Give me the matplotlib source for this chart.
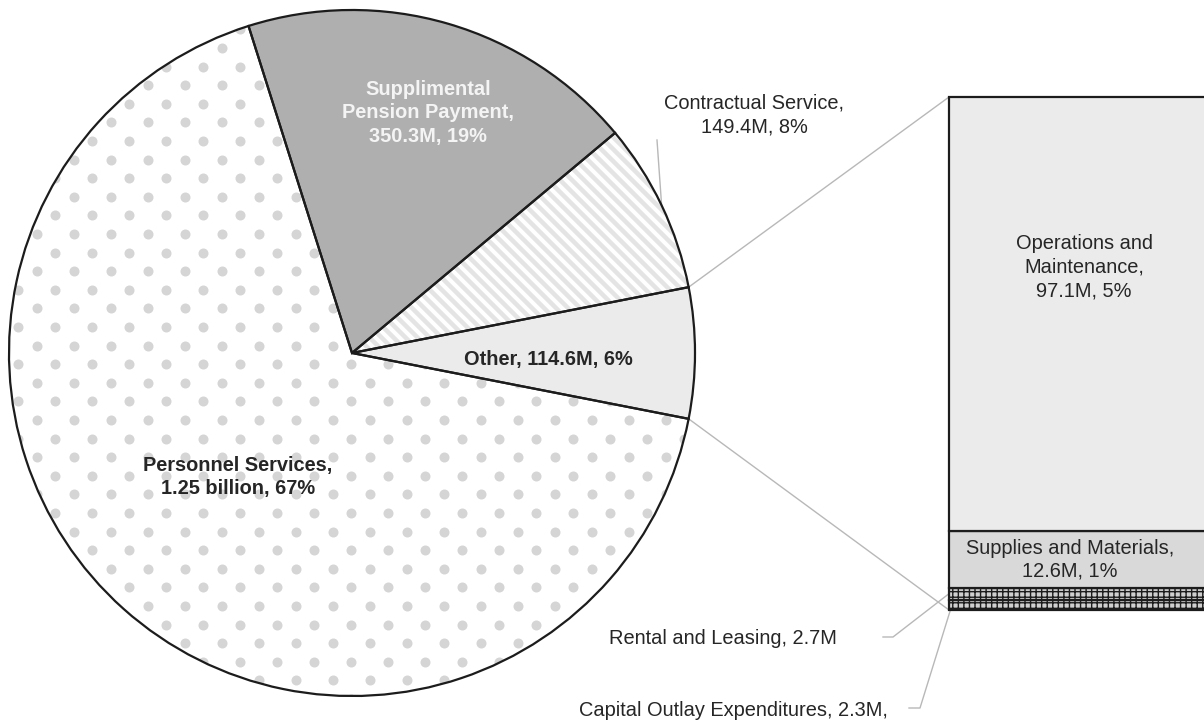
import numpy as np
import matplotlib
matplotlib.use('Agg')
from matplotlib import pyplot as plt
from matplotlib import patches as mpatches
from matplotlib.collections import LineCollection

plt.rcParams['font.family'] = ['Liberation Sans', 'DejaVu Sans']

# data
pie_names = ['Other', 'Contractual Service', 'Supplimental Pension Payment', 'Personnel Services']
pie_values = [114.6, 149.4, 350.3, 1250.0]
pie_texts = ['Other, 114.6M, 6%', 'Contractual Service,\n149.4M, 8%',
             'Supplimental\nPension Payment,\n350.3M, 19%', 'Personnel Services,\n1.25 billion, 67%']

bar_names = ['Capital Outlay Expenditures', 'Rental and Leasing', 'Supplies and Materials',
             'Operations and Maintenance']
bar_values = [2.3, 2.7, 12.6, 97.1]
bar_texts = ['Capital Outlay Expenditures, 2.3M,', 'Rental and Leasing, 2.7M',
             'Supplies and Materials,\n12.6M, 1%', 'Operations and\nMaintenance,\n97.1M, 5%']

W, H = 1204, 724
TXT = '#262626'
EDGE = '#1c1c1c'
LEAD = '#b8b8b8'
FS = 14.4
LS = 1.32


def Y(y):
    # image pixel row -> data y
    return H - y


fig = plt.figure(figsize=(W / 100, H / 100), dpi=100)
ax = fig.add_axes([0, 0, 1, 1])

cx, cy, r = 352, Y(353), 343
frac_other = pie_values[0] / sum(pie_values)
wedges, _ = ax.pie(pie_values, colors=['#ebebeb', 'white', '#afafaf', 'white'],
                   startangle=-180 * frac_other, counterclock=True, radius=r, center=(cx, cy),
                   wedgeprops=dict(edgecolor='none', linewidth=0), frame=True)
w_other, w_contr, w_supp, w_pers = wedges

# dotted texture for Personnel Services
rows = np.arange(-8, 32)
dx, dy = [], []
for k in rows:
    xs = np.arange(-40, 760, 37) + (18.5 if k % 2 else 0) + 76.7 - 37 * 3
    dx.extend(xs)
    dy.extend([Y(122.3 + 18.6 * k)] * len(xs))
dots = ax.scatter(dx, dy, s=52, color='#d5d5d5', linewidths=0, zorder=2)
dots.set_clip_path(w_pers)

# striped texture for Contractual Service
cs = np.arange(0, 2000, 12)
segs = [[(0, c), (W, c - W)] for c in cs]
stripes = LineCollection(segs, colors='#e4e4e4', linewidths=3.2, zorder=2)
ax.add_collection(stripes)
stripes.set_clip_path(w_contr)

for w in wedges:
    ax.add_patch(mpatches.Wedge(w.center, w.r, w.theta1, w.theta2, fill=False,
                                edgecolor=EDGE, linewidth=1.6, zorder=4))

# bar of pie
bar_left, bar_top, bar_bottom, bar_w = 949, Y(97), Y(610), 270
scale = (bar_top - bar_bottom) / sum(bar_values)
heights = np.array(bar_values) * scale
bottoms = bar_bottom + np.concatenate([[0], np.cumsum(heights)[:-1]])
bar_colors = ['#cfcfcf', '#cfcfcf', '#d9d9d9', '#ebebeb']
bars = ax.bar([bar_left] * 4, heights, bottom=bottoms, width=bar_w, align='edge',
              color=bar_colors, edgecolor=EDGE, linewidth=1.6, zorder=3)
for b in bars[:2]:
    b.set_hatch('+++')

# connector lines pie -> bar
t1, t2 = np.radians(w_other.theta1), np.radians(w_other.theta2)
ax.plot([cx + r * np.cos(t2), bar_left], [cy + r * np.sin(t2), bar_top], color=LEAD, lw=1, zorder=1)
ax.plot([cx + r * np.cos(t1), bar_left], [cy + r * np.sin(t1), bar_bottom], color=LEAD, lw=1, zorder=1)

# labels inside pie
ax.text(238, Y(477), pie_texts[3], ha='center', va='center', fontsize=FS, fontweight='bold',
        color=TXT, linespacing=LS, zorder=5)
ax.text(428, Y(113), pie_texts[2], ha='center', va='center', fontsize=FS, fontweight='bold',
        color='#f4f4f4', linespacing=LS, zorder=5)
ax.text(548, Y(359), pie_texts[0], ha='center', va='center', fontsize=FS, fontweight='bold',
        color=TXT, zorder=5)
ax.text(754, Y(115), pie_texts[1], ha='center', va='center', fontsize=FS, color=TXT,
        linespacing=LS, zorder=5)
tm = np.radians((w_contr.theta1 + w_contr.theta2) / 2)
ax.plot([657, cx + r * np.cos(tm)], [Y(140), cy + r * np.sin(tm)], color=LEAD, lw=1, zorder=1)

# labels in bar
ax.text(1084, Y(267), bar_texts[3], ha='center', va='center', fontsize=FS, color=TXT,
        linespacing=LS, zorder=5)
ax.text(1070, bottoms[2] + heights[2] / 2, bar_texts[2], ha='center', va='center', fontsize=FS,
        color=TXT, linespacing=1.22, zorder=5)
ax.text(837, Y(638), bar_texts[1], ha='right', va='center', fontsize=FS, color=TXT, zorder=5)
ax.text(888, Y(710), bar_texts[0], ha='right', va='center', fontsize=FS, color=TXT, zorder=5)

ym_rent = bottoms[1] + heights[1] / 2
ym_cap = bottoms[0] + heights[0] / 2
ax.plot([883, 893, bar_left], [Y(637), Y(637), ym_rent], color=LEAD, lw=1, zorder=1)
ax.plot([909, 920, bar_left + 3], [Y(708), Y(708), ym_cap], color=LEAD, lw=1, zorder=1)

ax.set_xlim(0, W)
ax.set_ylim(0, H)
ax.set_aspect('equal')
ax.axis('off')

fig.savefig('out.png', dpi=100)
